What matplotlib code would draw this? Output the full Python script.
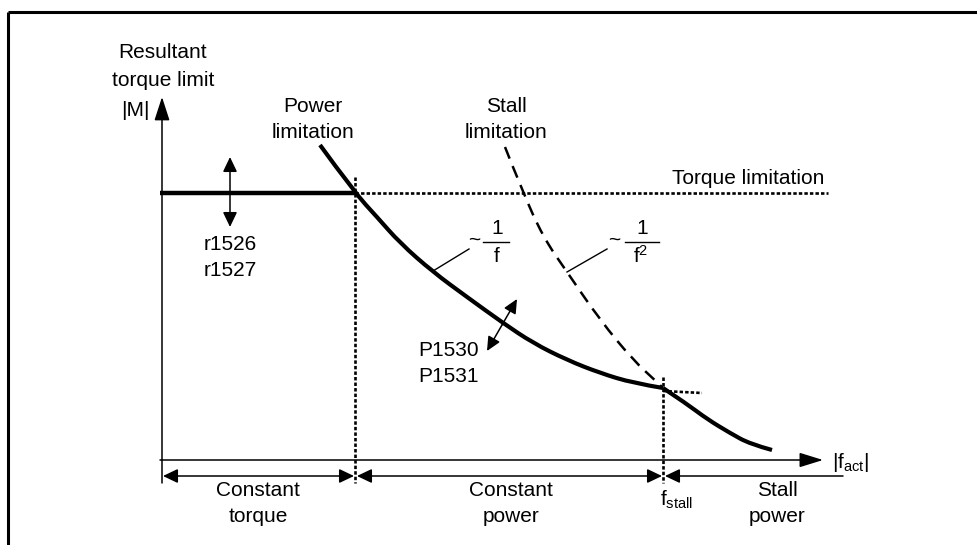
import numpy as np
import matplotlib
matplotlib.use("Agg")
from matplotlib import pyplot as plt
from matplotlib.path import Path
from matplotlib.patches import PathPatch

plt.rcParams["font.family"] = ["Liberation Sans", "DejaVu Sans"]
plt.rcParams["font.size"] = 15
plt.rcParams["mathtext.fontset"] = "custom"
plt.rcParams["mathtext.rm"] = "Liberation Sans"
plt.rcParams["mathtext.it"] = "Liberation Sans"

# Diagram coordinates (x to the right, y downwards, same scale as the sheet)
ORIGIN = (162, 460)
AXIS_TOP = 97
AXIS_RIGHT = 823
TORQUE_LEVEL = 193
F_CORNER = 355
F_STALL = 663
DIM_LEVEL = 476
DIM_END = 843

# Power limitation curve (~1/f) up to f_stall
POWER_F = [320, 355, 377, 400, 433, 467, 503, 533, 567, 600, 633, 663]
POWER_M = [145, 193, 217, 243, 272, 297, 323, 343, 360, 373, 383, 388]

# Stall power beyond f_stall
STALLP_F = [663, 687, 707, 730, 750, 772]
STALLP_M = [388, 404, 419, 433, 444, 450]

# Stall limitation curve (~1/f^2)
STALL_F = [505, 522, 543, 567, 600, 633, 657, 663]
STALL_M = [147, 190, 237, 272, 320, 360, 382, 388]

fig = plt.figure(figsize=(9.77, 5.45), dpi=100)
ax = fig.add_axes([0, 0, 1, 1])
ax.set_xlim(0, 977)
ax.set_ylim(545, 0)
ax.axis("off")

# sheet frame
ax.plot([8, 977], [12, 12], color="black", lw=2.2, solid_capstyle="butt")
ax.plot([8, 8], [12, 545], color="black", lw=2.2, solid_capstyle="butt")


def smooth_curve(xs, ys, **kw):
    # quadratic bezier pieces through the midpoints, read points as controls
    pts = np.column_stack([xs, ys]).astype(float)
    verts = [pts[0]]
    codes = [Path.MOVETO]
    for i in range(1, len(pts) - 1):
        mid = (pts[i] + pts[i + 1]) / 2 if i < len(pts) - 2 else pts[i + 1]
        verts += [pts[i], mid]
        codes += [Path.CURVE3, Path.CURVE3]
    if len(pts) == 2:
        verts.append(pts[1])
        codes.append(Path.LINETO)
    ax.add_patch(PathPatch(Path(verts, codes), fill=False, **kw))


def arrow(x0, y0, x1, y1, style, hl=0.9, hw=0.43, lw=1.1):
    ax.annotate("", xy=(x1, y1), xytext=(x0, y0),
                arrowprops=dict(arrowstyle=f"{style},head_length={hl},head_width={hw}",
                                color="black", lw=lw, shrinkA=0, shrinkB=0,
                                mutation_scale=10))


dotted = (0, (1.3, 0.8))

# axes
arrow(ORIGIN[0], 483, ORIGIN[0], AXIS_TOP, "-|>", hl=1.45, hw=0.47)
arrow(ORIGIN[0] - 2, ORIGIN[1], AXIS_RIGHT, ORIGIN[1], "-|>", hl=1.45, hw=0.45)

# torque limitation
ax.plot([160, F_CORNER], [TORQUE_LEVEL, TORQUE_LEVEL], color="black", lw=3.2,
        solid_capstyle="butt")
ax.plot([F_CORNER, 828], [TORQUE_LEVEL, TORQUE_LEVEL], color="black", lw=1.9,
        linestyle=dotted)

# construction lines
ax.plot([F_CORNER, F_CORNER], [177, 483], color="black", lw=1.9, linestyle=dotted)
ax.plot([F_STALL, F_STALL], [377, 483], color="black", lw=1.9, linestyle=dotted)
ax.plot([F_STALL, 702], [391, 393], color="black", lw=1.9, linestyle=dotted)

# characteristic curves
smooth_curve(STALL_F, STALL_M, color="black", lw=1.8, linestyle=(0, (5, 3.2)))
smooth_curve(POWER_F, POWER_M, color="black", lw=3.0, capstyle="butt")
smooth_curve(STALLP_F, STALLP_M, color="black", lw=3.0, capstyle="butt")

# adjustable parameters
arrow(230, 192, 230, 157, "-|>")
arrow(230, 192, 230, 227, "-|>")
arrow(502, 325, 517, 299, "-|>", hl=0.85, hw=0.4)
arrow(502, 325, 487, 351, "-|>", hl=0.85, hw=0.4)

# range dimensions
arrow(F_CORNER - 1, DIM_LEVEL, ORIGIN[0] + 1, DIM_LEVEL, "<|-|>")
arrow(F_CORNER + 2, DIM_LEVEL, F_STALL - 1, DIM_LEVEL, "<|-|>")
arrow(DIM_END, DIM_LEVEL, F_STALL + 2, DIM_LEVEL, "-|>")

# leaders for the curve laws
ax.plot([433, 469], [271, 249], color="black", lw=1.0)
ax.plot([567, 607], [272, 249], color="black", lw=1.0)
ax.plot([483, 509], [242, 242], color="black", lw=1.0)
ax.plot([625, 659], [242, 242], color="black", lw=1.0)

txt = dict(ha="center", va="center", color="black")
ax.text(163, 52, "Resultant", **txt)
ax.text(163, 80, "torque limit", **txt)
ax.text(135, 110, "|M|", **txt)
ax.text(313, 107, "Power", **txt)
ax.text(313, 132, "limitation", **txt)
ax.text(506, 106, "Stall", **txt)
ax.text(506, 132, "limitation", **txt)
ax.text(748, 178, "Torque limitation", **txt)
ax.text(230, 245, "r1526", **txt)
ax.text(230, 271, "r1527", **txt)
ax.text(418, 351, "P1530", ha="left", va="center")
ax.text(418, 377, "P1531", ha="left", va="center")

ax.text(474, 240, "~", fontsize=15, **txt)
ax.text(497, 228, "1", **txt)
ax.text(497, 257, "f", **txt)
ax.text(614, 240, "~", fontsize=15, **txt)
ax.text(642, 228, "1", **txt)
ax.text(641, 256, r"$\mathregular{f^2}$", **txt)

ax.text(832, 462, r"$\mathregular{|f_{act}|}$", ha="left", va="center")
ax.text(258, 490, "Constant", **txt)
ax.text(258, 516, "torque", **txt)
ax.text(511, 490, "Constant", **txt)
ax.text(511, 516, "power", **txt)
ax.text(677, 500, r"$\mathregular{f_{stall}}$", **txt)
ax.text(777, 490, "Stall", **txt)
ax.text(777, 516, "power", **txt)

fig.savefig("out.png", dpi=100, facecolor="white")
